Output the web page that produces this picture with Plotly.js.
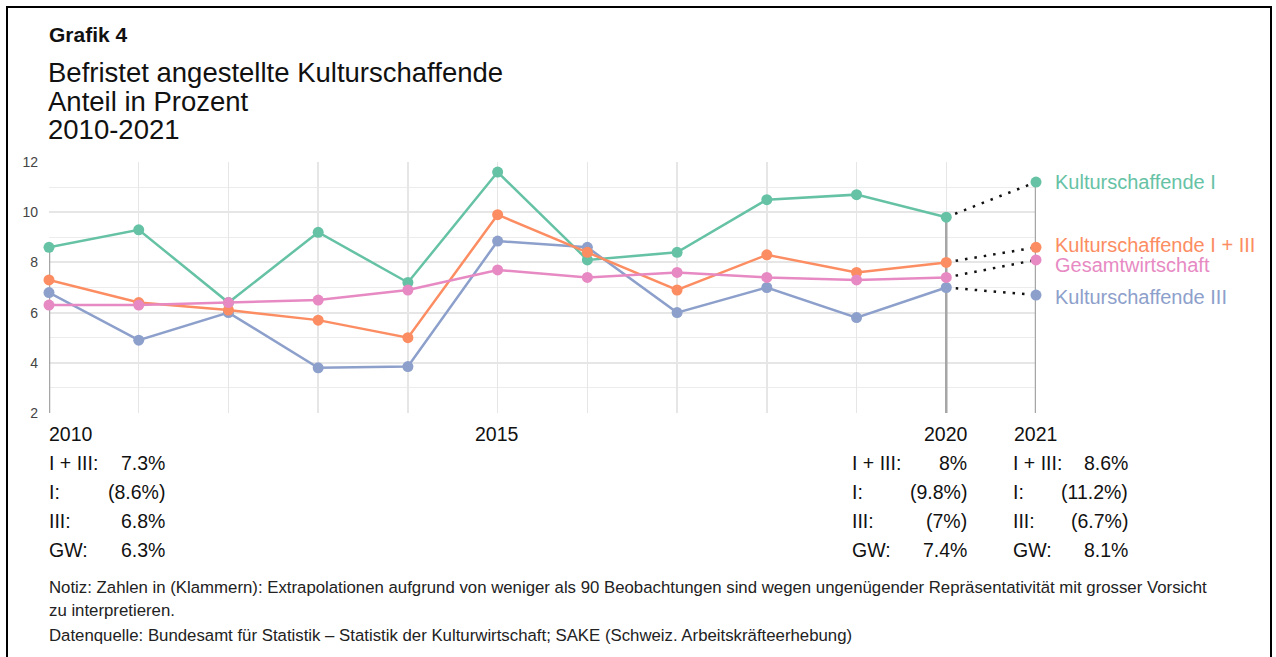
<!DOCTYPE html>
<html>
<head>
<meta charset="utf-8">
<script src="https://cdn.plot.ly/plotly-3.0.1.min.js"></script>
<style>
  html, body { margin: 0; padding: 0; background: #ffffff; }
  #chart { width: 1276px; height: 657px; }
</style>
</head>
<body>
<div id="chart"></div>
<script>
// ---- Data ----
const years = [2010, 2011, 2012, 2013, 2014, 2015, 2016, 2017, 2018, 2019, 2020, 2021];
const kulturI      = [8.6, 9.3, 6.4, 9.2, 7.2, 11.6, 8.1, 8.4, 10.5, 10.7, 9.8, 11.2];
const kulturI_III  = [7.3, 6.4, 6.1, 5.7, 5.0, 9.9, 8.4, 6.9, 8.3, 7.6, 8.0, 8.6];
const kulturIII    = [6.8, 4.9, 6.0, 3.8, 3.85, 8.85, 8.6, 6.0, 7.0, 5.8, 7.0, 6.7];
const gesamt       = [6.3, 6.3, 6.4, 6.5, 6.9, 7.7, 7.4, 7.6, 7.4, 7.3, 7.4, 8.1];

const seriesNames  = ['Kulturschaffende I', 'Kulturschaffende III', 'Kulturschaffende I + III', 'Gesamtwirtschaft'];
const seriesColors = ['#66c2a5', '#8da0cb', '#fc8d62', '#e78ac3'];
const seriesValues = [kulturI, kulturIII, kulturI_III, gesamt];

const highlightYears = [2010, 2020, 2021];
const xTickLabels = ['2010', '2015', '2020', '2021'];

const tableRowLabels = ['I + III:', 'I:', 'III:', 'GW:'];
const table2010 = ['7.3%', '(8.6%)', '6.8%', '6.3%'];
const table2020 = ['8%', '(9.8%)', '(7%)', '7.4%'];
const table2021 = ['8.6%', '(11.2%)', '(6.7%)', '8.1%'];

const titleSmall = 'Grafik 4';
const titleLines = ['Befristet angestellte Kulturschaffende', 'Anteil in Prozent', '2010-2021'];
const noteLines = [
  'Notiz: Zahlen in (Klammern): Extrapolationen aufgrund von weniger als 90 Beobachtungen sind wegen ungenügender Repräsentativität mit grosser Vorsicht',
  'zu interpretieren.',
  'Datenquelle: Bundesamt für Statistik – Statistik der Kulturwirtschaft; SAKE (Schweiz. Arbeitskräfteerhebung)'
];

// ---- Layout geometry (pixels) ----
const FONT = '"Liberation Sans", Arial, Helvetica, sans-serif';
const L = 49, R = 240, T = 162, Bm = 244;
const PW = 1276 - L - R, PH = 657 - T - Bm;
const BOTTOM = T + PH;
const px = x => (x - L) / PW;
const py = y => (BOTTOM - y) / PH;

const traces = [];
const last = years.length - 1;

// gray drop lines for highlighted years (from highest value down to axis)
highlightYears.forEach(yr => {
  const i = years.indexOf(yr);
  const top = Math.max(...seriesValues.map(s => s[i]));
  traces.push({
    x: [yr, yr], y: [2, top], mode: 'lines', type: 'scatter',
    line: {color: '#a6a6a6', width: 2.5}, hoverinfo: 'skip', showlegend: false, cliponaxis: false
  });
});

// dotted extrapolation segments 2020 -> 2021
seriesValues.forEach((vals) => {
  traces.push({
    x: years.slice(last - 1), y: vals.slice(last - 1), mode: 'lines', type: 'scatter',
    line: {color: '#111111', width: 2.5, dash: '2.5px,7px'}, hoverinfo: 'skip', showlegend: false, cliponaxis: false
  });
});

// main lines 2010-2020
seriesValues.forEach((vals, k) => {
  traces.push({
    x: years.slice(0, last), y: vals.slice(0, last), mode: 'lines+markers', type: 'scatter',
    name: seriesNames[k],
    line: {color: seriesColors[k], width: 2.5},
    marker: {color: seriesColors[k], size: 11},
    showlegend: false, cliponaxis: false
  });
});

// 2021 markers
seriesValues.forEach((vals, k) => {
  traces.push({
    x: [years[last]], y: [vals[last]], mode: 'markers', type: 'scatter',
    marker: {color: seriesColors[k], size: 11},
    showlegend: false, cliponaxis: false
  });
});

const annotations = [];
function txt(text, x, y, opts) {
  annotations.push(Object.assign({
    text: text, xref: 'paper', yref: 'paper', x: px(x), y: py(y),
    xanchor: 'left', yanchor: 'middle', showarrow: false,
    font: {family: FONT, size: 18, color: '#111111'}
  }, opts || {}));
}

// titles
txt('<b>' + titleSmall + '</b>', 47, 34, {font: {family: FONT, size: 21, color: '#111'}});
titleLines.forEach((t, i) => txt(t, 46, 72 + i * 29, {font: {family: FONT, size: 27.5, color: '#111'}}));

// x tick labels
const xLabelPos = {'2010': [47, 'left'], '2015': [497, 'center'], '2020': [946, 'center'], '2021': [1035, 'center']};
xTickLabels.forEach(lbl => {
  txt(lbl, xLabelPos[lbl][0], 434, {xanchor: xLabelPos[lbl][1], font: {family: FONT, size: 19.5, color: '#111'}});
});

// series labels at the right
const seriesLabelY = [182, 297, 245, 265];
seriesNames.forEach((n, k) => {
  txt(n, 1053, seriesLabelY[k], {font: {family: FONT, size: 20, color: seriesColors[k]}});
});

// table
const blocks = [[table2010, 47, 167], [table2020, 850, 969], [table2021, 1011, 1130]];
blocks.forEach(([vals, xl, xr]) => {
  tableRowLabels.forEach((lab, r) => {
    const y = 463 + r * 29;
    txt(lab, xl, y, {font: {family: FONT, size: 19.5, color: '#111'}});
    txt(vals[r], xr, y, {xanchor: 'right', font: {family: FONT, size: 19.5, color: '#111'}});
  });
});

// notes
const noteY = [587, 610, 635];
noteLines.forEach((n, i) => txt(n, 47, noteY[i], {font: {family: FONT, size: 16.8, color: '#222'}}));

const layout = {
  width: 1276, height: 657,
  margin: {l: L, r: R, t: T, b: Bm, pad: 0},
  paper_bgcolor: '#ffffff', plot_bgcolor: '#ffffff',
  showlegend: false,
  font: {family: FONT},
  xaxis: {
    range: [2010, 2021], dtick: 1, tick0: 2010,
    showgrid: true, gridcolor: '#e6e6e6', gridwidth: 1.5,
    showticklabels: false, zeroline: false, showline: false, ticks: '', fixedrange: true
  },
  yaxis: {
    range: [2, 12], dtick: 2, tick0: 2,
    showgrid: true, gridcolor: '#e6e6e6', gridwidth: 2,
    minor: {dtick: 1, showgrid: true, gridcolor: '#ececec', gridwidth: 1},
    tickfont: {family: FONT, size: 14, color: '#444'},
    ticks: '', ticklabelstandoff: 10,
    zeroline: false, showline: false, fixedrange: true
  },
  annotations: annotations,
  shapes: [{
    type: 'rect', xref: 'paper', yref: 'paper',
    x0: px(7), x1: px(1271), y0: py(7), y1: py(700),
    line: {color: '#000000', width: 2}, fillcolor: 'rgba(0,0,0,0)', layer: 'above'
  }]
};

Plotly.newPlot('chart', traces, layout, {displayModeBar: false, staticPlot: true});
</script>
</body>
</html>
